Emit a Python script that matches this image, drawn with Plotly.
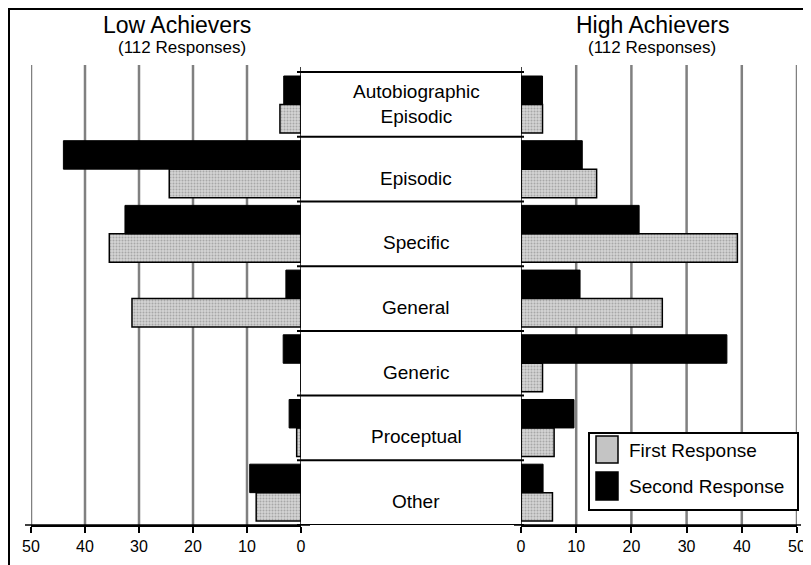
import plotly.graph_objects as go

# ---- data ----
categories = ["Autobiographic<br>Episodic", "Episodic", "Specific", "General",
              "Generic", "Proceptual", "Other"]
low_first = [3.9, 24.4, 35.5, 31.3, 0.0, 0.8, 8.3]
low_second = [3.2, 44.0, 32.6, 2.8, 3.3, 2.2, 9.5]
high_first = [3.9, 13.7, 39.2, 25.6, 3.9, 6.0, 5.7]
high_second = [3.9, 11.1, 21.4, 10.7, 37.3, 9.6, 4.0]
tick_vals = [0, 10, 20, 30, 40, 50]
grid_vals = [10, 20, 30, 40, 50]
left_title = "Low Achievers"
right_title = "High Achievers"
subtitle = "(112 Responses)"
series_names = ["First Response", "Second Response"]

FONT = "Liberation Sans, Arial, sans-serif"
# page body has an 8px margin; lay out in window pixels and convert
OX, OY = 8, 8
W, H = 811 - OX, 565 - OY
PLOT_TOP, PLOT_BOTTOM = 65, 525          # window pixels
T = PLOT_TOP - OY
B = H - (PLOT_BOTTOM - OY)
PH = H - T - B

def px(x):
    return (x - OX) / W

def py(y):
    return (PLOT_BOTTOM - y) / PH

ypos = list(range(len(categories)))

grey_marker = dict(color="#d4d4d4",
                   pattern=dict(shape=".", size=3, solidity=0.35, fgcolor="#7a7a7a"),
                   line=dict(color="black", width=1.5))
black_marker = dict(color="black", line=dict(color="black", width=1))

fig = go.Figure()
BW = 0.44
fig.add_trace(go.Bar(x=low_first, y=ypos, orientation="h", xaxis="x", yaxis="y",
                     width=BW, offset=0.0, marker=grey_marker, name=series_names[0],
                     showlegend=False))
fig.add_trace(go.Bar(x=low_second, y=ypos, orientation="h", xaxis="x", yaxis="y",
                     width=BW, offset=-BW, marker=black_marker, name=series_names[1],
                     showlegend=False))
fig.add_trace(go.Bar(x=high_first, y=ypos, orientation="h", xaxis="x2", yaxis="y",
                     width=BW, offset=0.0, marker=grey_marker, name=series_names[0],
                     showlegend=False))
fig.add_trace(go.Bar(x=high_second, y=ypos, orientation="h", xaxis="x2", yaxis="y",
                     width=BW, offset=-BW, marker=black_marker, name=series_names[1],
                     showlegend=False))

axis_common = dict(showgrid=False, zeroline=False, showline=True, linecolor="black",
                   linewidth=1.5, ticks="outside", ticklen=6, tickwidth=1.5,
                   tickcolor="black", tickvals=tick_vals, automargin=False,
                   tickfont=dict(family=FONT, size=16, color="black"), fixedrange=True)

fig.update_layout(
    width=W, height=H,
    margin=dict(l=0, r=0, t=T, b=B, pad=0, autoexpand=False),
    paper_bgcolor="white", plot_bgcolor="white",
    barmode="overlay",
    showlegend=False,
    xaxis=dict(domain=[px(31), px(301)], range=[50, 0], anchor="y", **axis_common),
    xaxis2=dict(domain=[px(521), px(797)], range=[0, 50], anchor="y", **axis_common),
    yaxis=dict(range=[len(categories) - 0.5, -0.61], visible=False, fixedrange=True,
               automargin=False),
)

shapes = []
# gridlines
for ax in ["x", "x2"]:
    for v in grid_vals:
        shapes.append(dict(type="line", xref=ax, yref="paper", x0=v, x1=v, y0=0, y1=1,
                           line=dict(color="#808080", width=2.5), layer="below"))
# axis line extensions beyond panels
shapes.append(dict(type="line", xref="paper", yref="paper", x0=px(25), x1=px(310),
                   y0=0, y1=0, line=dict(color="black", width=1.5)))
shapes.append(dict(type="line", xref="paper", yref="paper", x0=px(514), x1=px(801),
                   y0=0, y1=0, line=dict(color="black", width=1.5)))
# center boxes
for i in range(len(categories) + 1):
    shapes.append(dict(type="line", xref="paper", yref="y", x0=px(297), x1=px(524),
                       y0=i - 0.5, y1=i - 0.5, line=dict(color="black", width=2)))
for ax in ["x", "x2"]:
    shapes.append(dict(type="line", xref=ax, yref="y", x0=0, x1=0,
                       y0=-0.58, y1=len(categories) - 0.5,
                       line=dict(color="black", width=1.5)))
# outer frame
shapes.append(dict(type="rect", xref="paper", yref="paper", x0=px(9), x1=px(830),
                   y0=py(600), y1=py(9), line=dict(color="black", width=2),
                   fillcolor="rgba(0,0,0,0)"))
# legend
shapes.append(dict(type="rect", xref="paper", yref="paper", x0=px(589), x1=px(798),
                   y0=py(510), y1=py(433), line=dict(color="black", width=2),
                   fillcolor="white"))
shapes.append(dict(type="rect", xref="paper", yref="paper", x0=px(596), x1=px(618),
                   y0=py(463), y1=py(436), line=dict(color="black", width=1.5),
                   fillcolor="#c4c4c4"))
shapes.append(dict(type="rect", xref="paper", yref="paper", x0=px(596), x1=px(618),
                   y0=py(500), y1=py(472), line=dict(color="black", width=1.5),
                   fillcolor="black"))

annotations = []
for i, c in enumerate(categories):
    annotations.append(dict(text=c, xref="paper", yref="y", x=px(416), y=i,
                            yshift=(0 if "<br>" in c else -9), showarrow=False,
                            font=dict(family=FONT, size=19, color="black"),
                            xanchor="center", yanchor="middle"))
annotations += [
    dict(text=left_title, xref="paper", yref="paper", x=px(177), y=py(25), showarrow=False,
         font=dict(family=FONT, size=23, color="black"), xanchor="center", yanchor="middle"),
    dict(text=subtitle, xref="paper", yref="paper", x=px(182), y=py(47), showarrow=False,
         font=dict(family=FONT, size=17, color="black"), xanchor="center", yanchor="middle"),
    dict(text=right_title, xref="paper", yref="paper", x=px(652), y=py(25), showarrow=False,
         font=dict(family=FONT, size=23, color="black"), xanchor="center", yanchor="middle"),
    dict(text=subtitle, xref="paper", yref="paper", x=px(652), y=py(47), showarrow=False,
         font=dict(family=FONT, size=17, color="black"), xanchor="center", yanchor="middle"),
    dict(text=series_names[0], xref="paper", yref="paper", x=px(627), y=py(450),
         showarrow=False, font=dict(family=FONT, size=19, color="black"),
         xanchor="left", yanchor="middle"),
    dict(text=series_names[1], xref="paper", yref="paper", x=px(627), y=py(486),
         showarrow=False, font=dict(family=FONT, size=19, color="black"),
         xanchor="left", yanchor="middle"),
]

fig.update_layout(shapes=shapes, annotations=annotations)
fig.write_html("out.html", config={"displayModeBar": False})
